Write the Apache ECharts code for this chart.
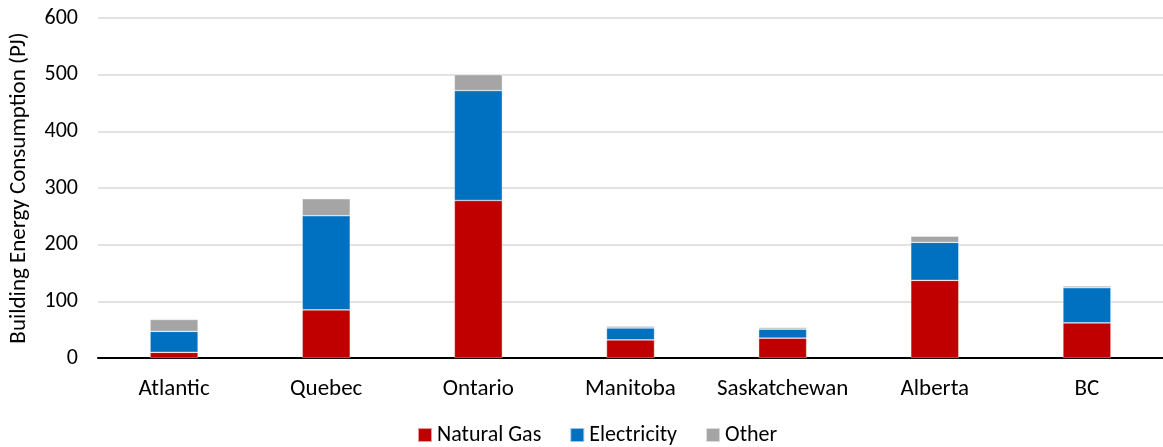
<!DOCTYPE html>
<html>
<head>
<meta charset="utf-8">
<script src="https://cdn.jsdelivr.net/npm/echarts@6/dist/echarts.min.js"></script>
<style>
  html, body { margin: 0; padding: 0; background: #fff; }
  #chart { width: 1163px; height: 447px; }
</style>
</head>
<body>
<div id="chart"></div>
<script>
// Building energy consumption by region and fuel (PJ)
const regions = ['Atlantic', 'Quebec', 'Ontario', 'Manitoba', 'Saskatchewan', 'Alberta', 'BC'];
const naturalGas = [10, 85, 278, 32, 35, 137, 62];
const electricity = [37, 166, 194, 21, 16, 67, 62];
const other = [21, 30, 28, 3, 3, 11, 3];
const yTicks = [0, 100, 200, 300, 400, 500, 600];

const font = 'Carlito, Calibri, Lato, "Open Sans", sans-serif';

const chart = echarts.init(document.getElementById('chart'));

function stackSeries(name, data, color) {
  return {
    name: name,
    type: 'bar',
    stack: 'total',
    data: data,
    barWidth: 48,
    itemStyle: { color: color, borderColor: 'rgba(255,255,255,0.6)', borderWidth: 0.6 },
    emphasis: { disabled: true }
  };
}

chart.setOption({
  animation: false,
  textStyle: { fontFamily: font },
  // plot area runs slightly past the right edge of the canvas
  grid: { left: 96, right: -11, top: 18, bottom: 89 },
  legend: {
    bottom: -4,
    left: 412,
    itemWidth: 14,
    itemHeight: 14,
    itemGap: 28,
    icon: 'rect',
    textStyle: { fontSize: 22, color: '#000', fontFamily: font },
    data: ['Natural Gas', 'Electricity', 'Other']
  },
  xAxis: {
    type: 'category',
    data: regions,
    axisLine: { lineStyle: { color: '#000', width: 2 } },
    axisTick: { show: false },
    axisLabel: { fontSize: 23, color: '#000', margin: 20, interval: 0, hideOverlap: false, fontFamily: font }
  },
  yAxis: {
    type: 'value',
    min: yTicks[0],
    max: yTicks[yTicks.length - 1],
    interval: 100,
    name: 'Building Energy Consumption (PJ)',
    nameLocation: 'middle',
    nameGap: 67,
    nameTextStyle: { fontSize: 23, color: '#000', fontFamily: font },
    axisLine: { show: false },
    axisTick: { show: false },
    axisLabel: { fontSize: 22, color: '#000', margin: 20, fontFamily: font },
    splitLine: { lineStyle: { color: '#D9D9D9', width: 1.5 } }
  },
  series: [
    stackSeries('Natural Gas', naturalGas, '#C00000'),
    stackSeries('Electricity', electricity, '#0070C0'),
    stackSeries('Other', other, '#A5A5A5')
  ]
});
</script>
</body>
</html>
